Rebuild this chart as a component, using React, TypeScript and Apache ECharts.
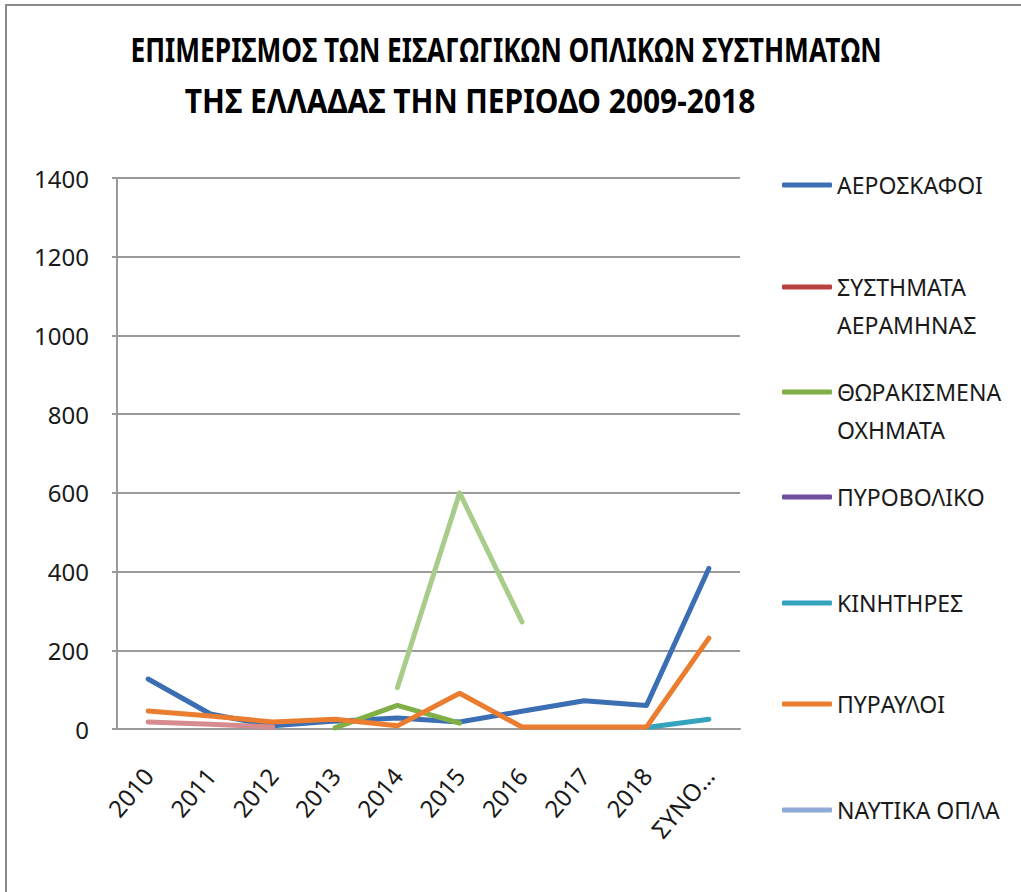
import React, { useEffect, useRef } from "react";
import * as echarts from "echarts";

const categories = ["2010", "2011", "2012", "2013", "2014", "2015", "2016", "2017", "2018", "ΣΥΝΟΛΟ"];
const yTicks = { min: 0, max: 1400, interval: 200 };

const aeroskafoi = [127, 38, 8, 20, 28, 18, 45, 72, 60, 408];
const systimataAeramynas: (number | null)[] = [null, null, null, null, null, null, null, null, null, null];
const thorakismena: (number | null)[] = [null, null, null, 3, 60, 15, null, null, null, null];
const pyrovoliko: (number | null)[] = [null, null, null, null, null, null, null, null, null, null];
const kinitires: (number | null)[] = [null, null, null, null, null, null, null, null, 4, 25];
const pyrauloi = [46, 33, 18, 25, 8, 91, 5, 5, 5, 231];
const naftikaOpla: (number | null)[] = [null, null, null, null, null, null, null, null, null, null];
const series8: (number | null)[] = [18, 12, 5, null, null, null, null, null, null, null];
const series9: (number | null)[] = [null, null, null, null, 105, 600, 272, null, null, null];

const names = [
  "ΑΕΡΟΣΚΑΦΟΙ",
  "ΣΥΣΤΗΜΑΤΑ ΑΕΡΑΜΗΝΑΣ",
  "ΘΩΡΑΚΙΣΜΕΝΑ ΟΧΗΜΑΤΑ",
  "ΠΥΡΟΒΟΛΙΚΟ",
  "ΚΙΝΗΤΗΡΕΣ",
  "ΠΥΡΑΥΛΟΙ",
  "ΝΑΥΤΙΚΑ ΟΠΛΑ",
  "ΣΕΙΡΑ 8",
  "ΣΕΙΡΑ 9",
];
const seriesData = [aeroskafoi, systimataAeramynas, thorakismena, pyrovoliko, kinitires, pyrauloi, naftikaOpla, series8, series9];
const colors = ["#3C6EB4", "#B7413E", "#7FAF45", "#6F4F9F", "#35A3BD", "#EA7D30", "#8EAAD8", "#D68B8E", "#A8CD8A"];
const legendLines = [
  ["ΑΕΡΟΣΚΑΦΟΙ"],
  ["ΣΥΣΤΗΜΑΤΑ", "ΑΕΡΑΜΗΝΑΣ"],
  ["ΘΩΡΑΚΙΣΜΕΝΑ", "ΟΧΗΜΑΤΑ"],
  ["ΠΥΡΟΒΟΛΙΚΟ"],
  ["ΚΙΝΗΤΗΡΕΣ"],
  ["ΠΥΡΑΥΛΟΙ"],
  ["ΝΑΥΤΙΚΑ ΟΠΛΑ"],
];
const legendCenters = [185, 287, 392, 497, 603, 704, 810];
const titleLine1 = "ΕΠΙΜΕΡΙΣΜΟΣ ΤΩΝ ΕΙΣΑΓΩΓΙΚΩΝ ΟΠΛΙΚΩΝ ΣΥΣΤΗΜΑΤΩΝ";
const titleLine2 = "ΤΗΣ ΕΛΛΑΔΑΣ ΤΗΝ ΠΕΡΙΟΔΟ 2009-2018";

const FONT = "'Noto Sans', 'Open Sans', sans-serif";
const TITLE_FONT = "'Noto Sans', sans-serif";

export default function App() {
  const ref = useRef<HTMLDivElement>(null);
  useEffect(() => {
    if (!ref.current) return;
    const chart = echarts.init(ref.current, undefined, { renderer: "svg" });
    const LH = 38;
    const legends = legendLines.map((lines, i) => {
      const twoLine = lines.length > 1;
      return {
        show: true,
        left: 782,
        top: legendCenters[i] - (twoLine ? 1.5 * LH : 0.5 * LH),
        padding: 0,
        itemWidth: 50,
        itemHeight: 5,
        itemGap: 0,
        icon: "roundRect",
        data: [{ name: names[i], icon: "roundRect", itemStyle: { color: colors[i] } }],
        formatter: () => (twoLine ? "\n" + lines.join("\n") : lines[0]),
        textStyle: { fontFamily: FONT, fontSize: 23, color: "#1a1a1a", lineHeight: LH },
        selectedMode: false,
      };
    });
    chart.setOption({
      animation: false,
      backgroundColor: "#ffffff",
      graphic: [
        {
          type: "rect",
          shape: { x: 6, y: 5, width: 1200, height: 1000 },
          style: { fill: "none", stroke: "#8a8a8a", lineWidth: 2 },
          silent: true,
        },
        {
          type: "text",
          x: 506,
          y: 49,
          scaleX: 0.773,
          style: {
            text: titleLine1,
            fontFamily: TITLE_FONT,
            fontWeight: "bold",
            fontSize: 34,
            fill: "#000",
            textAlign: "center",
            textVerticalAlign: "middle",
          },
        },
        {
          type: "text",
          x: 470,
          y: 100,
          scaleX: 0.88,
          style: {
            text: titleLine2,
            fontFamily: TITLE_FONT,
            fontWeight: "bold",
            fontSize: 34,
            fill: "#000",
            textAlign: "center",
            textVerticalAlign: "middle",
          },
        },
      ],
      legend: legends,
      grid: { left: 117, top: 178, width: 623, height: 551, containLabel: false },
      xAxis: {
        type: "category",
        data: categories,
        boundaryGap: true,
        axisLine: { show: true, lineStyle: { color: "#9a9a9a", width: 2 } },
        axisTick: { show: false },
        axisLabel: {
          rotate: 50,
          margin: 42,
          fontFamily: FONT,
          fontSize: 24,
          color: "#1a1a1a",
          interval: 0,
          formatter: (v: string) => (v.length > 4 && isNaN(Number(v)) ? v.slice(0, 4) + "…" : v),
        },
        splitLine: { show: false },
      },
      yAxis: {
        type: "value",
        min: yTicks.min,
        max: yTicks.max,
        interval: yTicks.interval,
        axisLine: { show: true, lineStyle: { color: "#9a9a9a", width: 2 } },
        axisTick: { show: true, length: 5, lineStyle: { color: "#9a9a9a", width: 2 } },
        axisLabel: {
          margin: 28,
          fontFamily: FONT,
          fontSize: 24,
          color: "#1a1a1a",
          formatter: (v: number) => String(v),
        },
        splitLine: { show: true, lineStyle: { color: "#9a9a9a", width: 2 } },
      },
      series: names.map((n, i) => ({
        name: n,
        type: "line",
        data: seriesData[i],
        showSymbol: false,
        symbol: "none",
        connectNulls: false,
        color: colors[i],
        lineStyle: { color: colors[i], width: 5, cap: "round", join: "round" },
      })),
    });
    return () => chart.dispose();
  }, []);
  return (
    <div
      ref={ref}
      style={{ position: "fixed", left: 0, top: 0, width: 1021, height: 892, background: "#fff" }}
    />
  );
}
